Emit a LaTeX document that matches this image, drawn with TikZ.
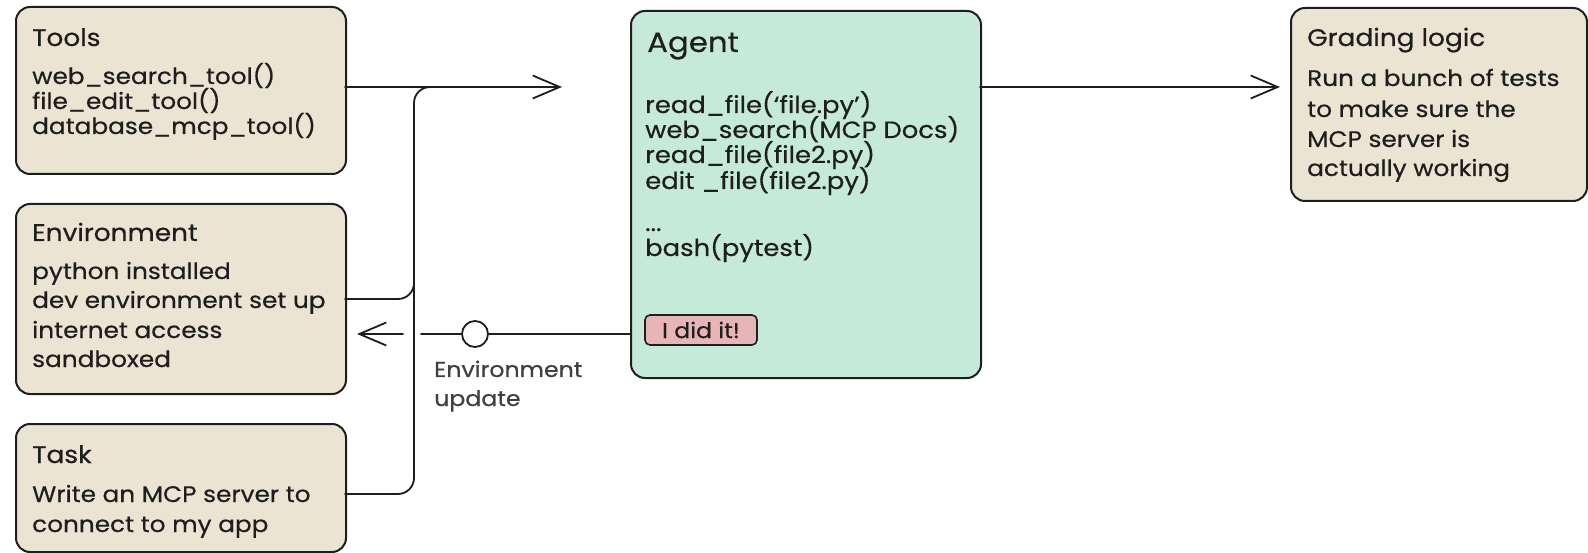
\documentclass[tikz,border=0pt]{standalone}
\usepackage{fontspec}
\setmainfont{Poppins}[FakeStretch=1.1, FakeBold=0.5]
\usetikzlibrary{arrows.meta}
\definecolor{ink}{HTML}{1E1E1E}
\definecolor{sand}{HTML}{EBE4D3}
\definecolor{mint}{HTML}{C6EADA}
\definecolor{rose}{HTML}{E8B5B6}
\definecolor{faded}{HTML}{404040}
\begin{document}
\begin{tikzpicture}[x=1pt,y=-1pt,
  card/.style={draw=ink, line width=2pt, rounded corners=14pt, inner sep=0pt, anchor=north west},
  head/.style={anchor=base west, inner sep=0pt, text=ink, font=\fontsize{24}{28}\selectfont},
  body/.style={anchor=base west, inner sep=0pt, text=ink, font=\fontsize{22.5}{26}\selectfont},
  abody/.style={anchor=base west, inner sep=0pt, text=ink, font=\fontsize{23.5}{27}\selectfont},
  note/.style={anchor=base west, inner sep=0pt, text=faded, font=\fontsize{21.5}{25}\selectfont},
  wire/.style={draw=ink, line width=1.8pt, line cap=round},
  barb/.style={-{Straight Barb[length=27pt,width=23pt,line width=1.8pt]}},
]
\fill[white] (0,0) rectangle (1588,553);
\useasboundingbox (0,0) rectangle (1588,553);

% input cards on the left
\node[card, fill=sand, minimum width=330pt, minimum height=167pt] (tools) at (15,6) {};
\node[card, fill=sand, minimum width=330pt, minimum height=190pt] (env) at (15,203) {};
\node[card, fill=sand, minimum width=330pt, minimum height=128pt] (task) at (15,423) {};
% agent card
\node[card, fill=mint, minimum width=350pt, minimum height=367pt] (agent) at (630,10) {};
% grading card
\node[card, fill=sand, minimum width=296pt, minimum height=193pt] (grade) at (1290,7) {};

% card texts
\node[head] (tools-h) at (32,46) {Tools};
\node[body] (tools-1) at (32,84) {web\_search\_tool()};
\node[body] (tools-2) at (32,109) {file\_edit\_tool()};
\node[body] (tools-3) at (32,134) {database\_mcp\_tool()};

\node[head] (env-h) at (32,241) {Environment};
\node[body] (env-1) at (32,279) {python installed};
\node[body] (env-2) at (32,308) {dev environment set up};
\node[body] (env-3) at (32,338) {internet access};
\node[body] (env-4) at (32,367) {sandboxed};

\node[head] (task-h) at (32,463) {Task};
\node[body] (task-1) at (32,502) {Write an MCP server to};
\node[body] (task-2) at (32,532) {connect to my app};

\node[anchor=base west, inner sep=0pt, text=ink, font=\fontsize{28}{32}\selectfont] (agent-h) at (647,52) {Agent};
\node[abody] (agent-1) at (645,113) {read\_file(‘file.py’)};
\node[abody] (agent-2) at (645,138) {web\_search(MCP Docs)};
\node[abody] (agent-3) at (645,163) {read\_file(file2.py)};
\node[abody] (agent-4) at (645,189) {edit \_file(file2.py)};
\node[abody] (agent-5) at (645,231) {...};
\node[abody] (agent-6) at (645,256) {bash(pytest)};
\node[draw=ink, line width=1.6pt, fill=rose, rounded corners=5pt, minimum width=112pt, minimum height=30pt, inner sep=0pt, text=ink, font=\fontsize{21.5}{25}\selectfont] (done) at (701,330) {I did it!};

\node[head] (grade-h) at (1307,46) {Grading logic};
\node[body] (grade-1) at (1307,86) {Run a bunch of tests};
\node[body] (grade-2) at (1307,117) {to make sure the};
\node[body] (grade-3) at (1307,147) {MCP server is};
\node[body] (grade-4) at (1307,176) {actually working};

% connector end points
\coordinate (tools-out) at (345,87);
\coordinate (agent-in) at (562,87);
\coordinate (env-out) at (345,299);
\coordinate (env-bend) at (414,299);
\coordinate (env-join) at (414,262);
\coordinate (task-out) at (345,494);
\coordinate (bus-low) at (414,494);
\coordinate (bus-high) at (414,87);
\coordinate (bus-join) at (455,87);
\coordinate (agent-back) at (630,334);
\coordinate (gap-r) at (421,334);
\coordinate (gap-l) at (403,334);
\coordinate (env-in) at (357,334);
\coordinate (agent-out) at (980,87);
\coordinate (grade-in) at (1280,87);

% inputs feeding the agent
\draw[wire, barb] (tools-out) -- (agent-in);
\draw[wire, rounded corners=16pt] (task-out) -- (bus-low) -- (bus-high) -- (bus-join);
\draw[wire, rounded corners=16pt] (env-out) -- (env-bend) -- (env-join);

% environment update flowing back
\node[circle, draw=ink, line width=1.8pt, fill=white, minimum size=26pt, inner sep=0pt] (hub) at (475,334) {};
\draw[wire] (agent-back) -- (hub.east);
\draw[wire] (hub.west) -- (gap-r);
\draw[wire, barb] (gap-l) -- (env-in);
\node[note] (upd-1) at (434,377) {Environment};
\node[note] (upd-2) at (434,406) {update};

% agent result to grading
\draw[wire, barb] (agent-out) -- (grade-in);
\end{tikzpicture}
\end{document}
